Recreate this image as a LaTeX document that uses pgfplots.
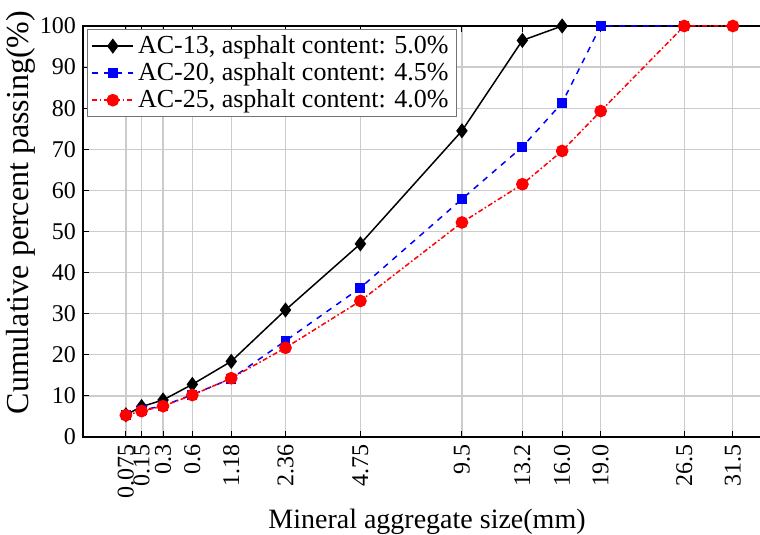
\documentclass[border=0pt]{standalone}
\usepackage{fontspec}
\setmainfont{Liberation Serif}
\usepackage{pgfplots}
\pgfplotsset{compat=1.18}

% x positions are sieve size^0.45 (power-0.45 gradation scale)
\pgfplotstableread{
x     y
0.3118 5.4
0.4259 7.4
0.5817 9.0
0.7946 12.8
1.0773 18.4
1.4717 30.9
2.0161 47.0
2.7541 74.5
3.1933 96.5
3.4822 100
}\actreize
\pgfplotstableread{
x     y
0.3118 5.4
0.4259 6.5
0.5817 7.6
0.7946 10.3
1.0773 14.2
1.4717 23.4
2.0161 36.3
2.7541 57.9
3.1933 70.6
3.4822 81.3
3.7622 100
4.3697 100
}\actwenty
\pgfplotstableread{
x     y
0.3118 5.3
0.4259 6.3
0.5817 7.5
0.7946 10.2
1.0773 14.3
1.4717 21.7
2.0161 33.1
2.7541 52.2
3.1933 61.5
3.4822 69.6
3.7622 79.3
4.3697 100
4.7231 100
}\actwentyfive

\begin{document}
\begin{tikzpicture}
\begin{axis}[
  scale only axis, width=344pt, height=205.5pt,
  xmin=0, xmax=5, ymin=0, ymax=100,
  xtick={0.3118,0.4259,0.5817,0.7946,1.0773,1.4717,2.0161,2.7541,3.1933,3.4822,3.7622,4.3697,4.7231},
  xticklabels={0.075,0.15,0.3,0.6,1.18,2.36,4.75,9.5,13.2,16.0,19.0,26.5,31.5},
  ytick={0,10,...,100},
  xmajorgrids, ymajorgrids,
  grid style={black!20, line width=0.6pt},
  axis line style={black, line width=0.6pt},
  tick style={black, line width=0.5pt}, major tick length=3pt,
  /pgf/number format/assume math mode=true,
  xticklabel style={rotate=90, anchor=east, font=\fontsize{12}{12}\selectfont},
  yticklabel style={font=\fontsize{12}{12}\selectfont},
  xlabel={Mineral aggregate size(mm)},
  ylabel={Cumulative percent passing(\%)},
  xlabel style={at={(axis description cs:0.5,-0.2236)}, anchor=base, font=\fontsize{14}{14}\selectfont},
  ylabel style={at={(axis description cs:-0.090,0.546)}, anchor=center, font=\fontsize{16}{16}\selectfont},
  clip=false,
  legend style={at={(0,1)}, anchor=north west, xshift=2pt, yshift=-1.5pt,
    draw=black!55, line width=0.6pt, fill=white, font=\fontsize{13}{15.5}\selectfont,
    inner xsep=2pt, inner ysep=1pt, row sep=-1pt},
  legend cell align=left,
  legend image code/.code={\draw[mark repeat=2,mark phase=2] plot coordinates {(0cm,0cm)(0.36cm,0cm)(0.72cm,0cm)};},
]
\addplot[black, line width=0.75pt, mark=diamond*, mark size=3.2pt, mark options={solid, fill=black}] table {\actreize};
\addlegendentry{AC-13, asphalt content: 5.0\%}
\addplot[blue, line width=0.75pt, dashed, mark=square*, mark size=2.1pt, mark options={solid, fill=blue}] table {\actwenty};
\addlegendentry{AC-20, asphalt content: 4.5\%}
\addplot[red, line width=0.75pt, dash pattern=on 2.5pt off 1.2pt on 0.8pt off 1.2pt, mark=*, mark size=2.8pt, mark options={solid, fill=red}] table {\actwentyfive};
\addlegendentry{AC-25, asphalt content: 4.0\%}
\end{axis}
\pgfresetboundingbox
\useasboundingbox ([shift={(-41.5pt,-49pt)}]current axis.south west) rectangle ([shift={(338.5pt,13pt)}]current axis.north west);
\end{tikzpicture}
\end{document}
